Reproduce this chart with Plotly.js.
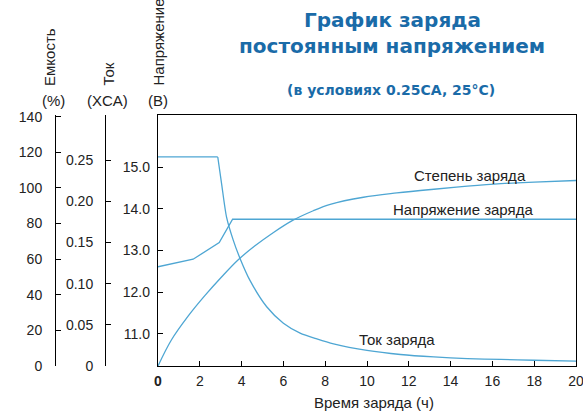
<!DOCTYPE html>
<html>
<head>
<meta charset="utf-8">
<script src="https://cdn.plot.ly/plotly-3.0.1.min.js"></script>
<style>body{margin:0;padding:0;background:#fff;}</style>
</head>
<body>
<div id="chart" style="width:583px;height:415px;"></div>
<script>
// Time axis ticks
var timeTicks = [0, 2, 4, 6, 8, 10, 12, 14, 16, 18, 20];
var timeTickText = ['<b>0</b>', '2', '4', '6', '8', '10', '12', '14', '16', '18', '20'];

// Voltage axis ticks
var voltTicks = [11, 12, 13, 14, 15];
var voltTickText = ['11.0', '12.0', '13.0', '14.0', '15.0'];

// Current axis ticks
var currTicks = [0, 0.05, 0.10, 0.15, 0.20, 0.25];
var currTickText = ['0', '0.05', '0.10', '0.15', '0.20', '0.25'];

// Capacity axis ticks
var capTicks = [0, 20, 40, 60, 80, 100, 120, 140];
var capTickText = ['0', '20', '40', '60', '80', '100', '120', '140'];

// Charge current (XCA) vs time (h)
var currentTime = [0, 2.86, 3.04, 3.28, 3.60, 3.92, 4.40, 5.20, 6.0, 6.8, 7.6, 8.4, 10, 11.6, 13.2, 14.8, 16.4, 18, 20];
var currentValues = [0.254, 0.254, 0.222, 0.181, 0.153, 0.131, 0.104, 0.072, 0.052, 0.040, 0.033, 0.027, 0.019, 0.014, 0.011, 0.009, 0.008, 0.007, 0.006];

// Charge voltage (V) vs time (h)
var voltageTime = [0, 1.68, 2.93, 3.57, 20];
var voltageValues = [12.61, 12.79, 13.19, 13.75, 13.75];

// Charge capacity (%) vs time (h)
var capacityTime = [0, 0.64, 1.44, 2.24, 3.04, 3.84, 4.64, 5.44, 6.4, 7.43, 8.24, 9.83, 11.43, 13.2, 14.8, 16.4, 18, 20];
var capacityValues = [0, 14.6, 28.0, 39.5, 50.0, 59.7, 67.5, 74.3, 81.5, 87.2, 90.8, 94.8, 97.2, 99.3, 101.0, 102.4, 103.3, 104.2];

var lineColor = '#4ea6d3';
var titleColor = '#1a6ba8';
var textColor = '#222222';
var FONT = "'Liberation Sans', Arial, sans-serif";
var TITLE_FONT = "'DejaVu Sans', Verdana, sans-serif";

var traces = [
  {x: currentTime.slice(0, 2), y: currentValues.slice(0, 2), yaxis: 'y2', mode: 'lines', line: {color: lineColor, width: 1.3}, hoverinfo: 'none'},
  {x: currentTime.slice(1), y: currentValues.slice(1), yaxis: 'y2', mode: 'lines', line: {color: lineColor, width: 1.3, shape: 'spline', smoothing: 0.7}, hoverinfo: 'none'},
  {x: voltageTime, y: voltageValues, yaxis: 'y', mode: 'lines', line: {color: lineColor, width: 1.3}, hoverinfo: 'none'},
  {x: capacityTime, y: capacityValues, yaxis: 'y3', mode: 'lines', line: {color: lineColor, width: 1.3, shape: 'spline', smoothing: 1}, hoverinfo: 'none'}
];

var L = 40, R = 7, T = 115, B = 49, W = 583, H = 415;
var pw = W - L - R, ph = H - T - B;
function px(xp) { return (xp - L) / pw; }
function py(yp) { return (H - B - yp) / ph; }

var tickFont = {family: FONT, size: 14, color: textColor};
var labelFont = {family: FONT, size: 15, color: textColor};

var layout = {
  width: W, height: H,
  margin: {l: L, r: R, t: T, b: B, pad: 0},
  paper_bgcolor: '#ffffff', plot_bgcolor: '#ffffff',
  showlegend: false,
  font: {family: FONT, color: textColor},
  xaxis: {
    domain: [px(158), 1], range: [0, 20], tickvals: timeTicks, ticktext: timeTickText,
    ticks: 'inside', ticklen: 5, tickcolor: '#000', showline: true, linecolor: '#000', linewidth: 1.2,
    mirror: true, showgrid: false, zeroline: false, tickfont: tickFont, ticklabelstandoff: 2,
    ticklabeloverflow: 'allow'
  },
  yaxis: {
    range: [10.23, 16.25], tickvals: voltTicks, ticktext: voltTickText, anchor: 'x',
    ticks: 'inside', ticklen: 5, tickcolor: '#000', showline: true, linecolor: '#000', linewidth: 1.2,
    mirror: true, showgrid: false, zeroline: false, tickfont: tickFont, ticklabelstandoff: 4
  },
  yaxis2: {
    range: [0, 0.305], tickvals: currTicks, ticktext: currTickText, overlaying: 'y', anchor: 'free',
    position: px(105), side: 'left',
    ticks: 'inside', ticklen: 5, tickcolor: '#000', showline: true, linecolor: '#000', linewidth: 1.2,
    showgrid: false, zeroline: false, tickfont: tickFont, ticklabelstandoff: 9
  },
  yaxis3: {
    range: [0, 141], tickvals: capTicks, ticktext: capTickText, overlaying: 'y', anchor: 'free',
    position: px(55), side: 'left',
    ticks: 'inside', ticklen: 5, tickcolor: '#000', showline: true, linecolor: '#000', linewidth: 1.2,
    showgrid: false, zeroline: false, tickfont: tickFont, ticklabelstandoff: 10
  },
  annotations: [
    {text: '<b>График заряда</b>', xref: 'paper', yref: 'paper', x: px(392), y: py(20), showarrow: false,
     font: {family: TITLE_FONT, size: 20, color: titleColor}, xanchor: 'center', yanchor: 'middle'},
    {text: '<b>постоянным напряжением</b>', xref: 'paper', yref: 'paper', x: px(392), y: py(46), showarrow: false,
     font: {family: TITLE_FONT, size: 20, color: titleColor}, xanchor: 'center', yanchor: 'middle'},
    {text: '<b>(в условиях 0.25CA, 25°C)</b>', xref: 'paper', yref: 'paper', x: px(391), y: py(90), showarrow: false,
     font: {family: TITLE_FONT, size: 14, color: titleColor}, xanchor: 'center', yanchor: 'middle'},

    {text: 'Емкость', xref: 'paper', yref: 'paper', x: px(49), y: py(88), textangle: -90, showarrow: false,
     font: labelFont, xanchor: 'center', yanchor: 'bottom'},
    {text: '(%)', xref: 'paper', yref: 'paper', x: px(53), y: py(100), showarrow: false,
     font: labelFont, xanchor: 'center', yanchor: 'middle'},
    {text: 'Ток', xref: 'paper', yref: 'paper', x: px(108), y: py(88), textangle: -90, showarrow: false,
     font: labelFont, xanchor: 'center', yanchor: 'bottom'},
    {text: '(XCA)', xref: 'paper', yref: 'paper', x: px(107), y: py(100), showarrow: false,
     font: labelFont, xanchor: 'center', yanchor: 'middle'},
    {text: 'Напряжение', xref: 'paper', yref: 'paper', x: px(158), y: py(88), textangle: -90, showarrow: false,
     font: labelFont, xanchor: 'center', yanchor: 'bottom'},
    {text: '(В)', xref: 'paper', yref: 'paper', x: px(158), y: py(100), showarrow: false,
     font: labelFont, xanchor: 'center', yanchor: 'middle'},

    {text: 'Время заряда (ч)', xref: 'paper', yref: 'paper', x: px(374), y: py(402), showarrow: false,
     font: labelFont, xanchor: 'center', yanchor: 'middle'},

    {text: 'Степень заряда', xref: 'x', yref: 'y', x: 14.95, y: 14.81, showarrow: false,
     font: labelFont, xanchor: 'center', yanchor: 'middle'},
    {text: 'Напряжение заряда', xref: 'x', yref: 'y', x: 14.6, y: 13.99, showarrow: false,
     font: labelFont, xanchor: 'center', yanchor: 'middle'},
    {text: 'Ток заряда', xref: 'x', yref: 'y', x: 11.45, y: 10.86, showarrow: false,
     font: labelFont, xanchor: 'center', yanchor: 'middle'}
  ]
};

Plotly.newPlot('chart', traces, layout, {staticPlot: true, displayModeBar: false});
</script>
</body>
</html>
